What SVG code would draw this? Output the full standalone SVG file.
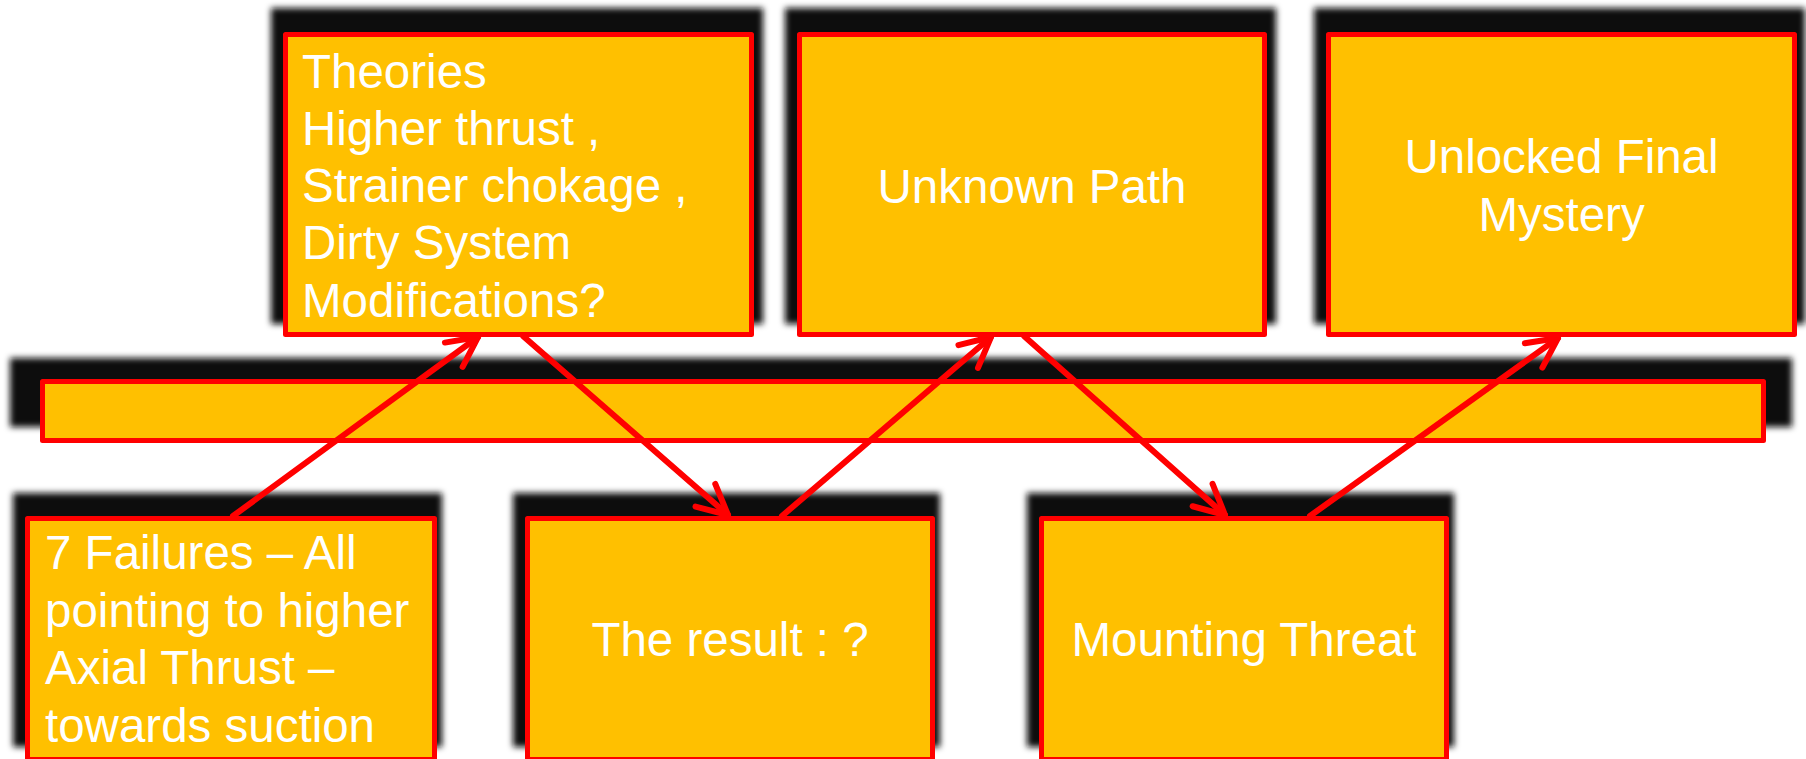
<svg xmlns="http://www.w3.org/2000/svg" width="1806" height="759" viewBox="0 0 1806 759">
<style>
.shadow{fill:#101010;filter:url(#blur)}
.box{fill:#FFC000;stroke:#FF0000;stroke-width:5;stroke-linejoin:round}
.t{font-family:"Liberation Sans",Arial,sans-serif;font-size:47.5px;fill:#FFFFFF}
.c{text-anchor:middle}
.conn{fill:none;stroke:#FF0000;stroke-width:6;stroke-linecap:round;marker-end:url(#arr)}
</style>
<defs>
<filter id="blur" x="-0.1" y="-0.5" width="1.2" height="2">
<feGaussianBlur stdDeviation="3"/>
</filter>
<marker id="arr" markerUnits="userSpaceOnUse" orient="auto" markerWidth="60" markerHeight="60" refX="0" refY="0" viewBox="-40 -30 60 60" overflow="visible">
<path d="M -30 -15 L 0 0 L -30 15" fill="none" stroke="#FF0000" stroke-width="6" stroke-linecap="round" stroke-linejoin="round"/>
</marker>
</defs>
<rect width="1806" height="759" fill="#FFFFFF"/>
<g id="shadows">
<rect class="shadow" x="271" y="8" width="492" height="316"/>
<rect class="shadow" x="785" y="8" width="491" height="316"/>
<rect class="shadow" x="1314" y="8" width="491" height="316"/>
<rect class="shadow" x="10" y="358" width="1782" height="69"/>
<rect class="shadow" x="13" y="493" width="429" height="254"/>
<rect class="shadow" x="513" y="493" width="427" height="254"/>
<rect class="shadow" x="1027" y="493" width="427" height="254"/>
</g>
<g id="node-theories">
<rect class="box" x="285.5" y="34.5" width="466" height="300"/>
<text class="t" x="302"><tspan x="302" y="88">Theories</tspan><tspan x="302" y="145">Higher thrust ,</tspan><tspan x="302" y="202">Strainer chokage ,</tspan><tspan x="302" y="259">Dirty System</tspan><tspan x="302" y="317">Modifications?</tspan></text>
</g>
<g id="node-unknown">
<rect class="box" x="799.5" y="34.5" width="465" height="300"/>
<text class="t c" x="1032" y="203">Unknown Path</text>
</g>
<g id="node-unlocked">
<rect class="box" x="1328.5" y="34.5" width="466" height="300"/>
<text class="t c"><tspan x="1561.5" y="173">Unlocked Final</tspan><tspan x="1561.5" y="231">Mystery</tspan></text>
</g>
<g id="node-bar">
<rect class="box" x="42.5" y="381.5" width="1721" height="59"/>
</g>
<g id="node-failures">
<rect class="box" x="27.5" y="518.5" width="407" height="241"/>
<text class="t"><tspan x="45" y="569">7 Failures – All</tspan><tspan x="45" y="627">pointing to higher</tspan><tspan x="45" y="684">Axial Thrust –</tspan><tspan x="45" y="742">towards suction</tspan></text>
</g>
<g id="node-result">
<rect class="box" x="527.5" y="518.5" width="405" height="241"/>
<text class="t c" x="730" y="656">The result : ?</text>
</g>
<g id="node-mounting">
<rect class="box" x="1041.5" y="518.5" width="405" height="241"/>
<text class="t c" x="1244" y="656">Mounting Threat</text>
</g>
<g id="connectors">
<path class="conn" d="M 233 516 L 478 337"/>
<path class="conn" d="M 523 336 L 728 515"/>
<path class="conn" d="M 782 516 L 991 337"/>
<path class="conn" d="M 1024 336 L 1225 515"/>
<path class="conn" d="M 1310 516 L 1558 338"/>
</g>
</svg>
